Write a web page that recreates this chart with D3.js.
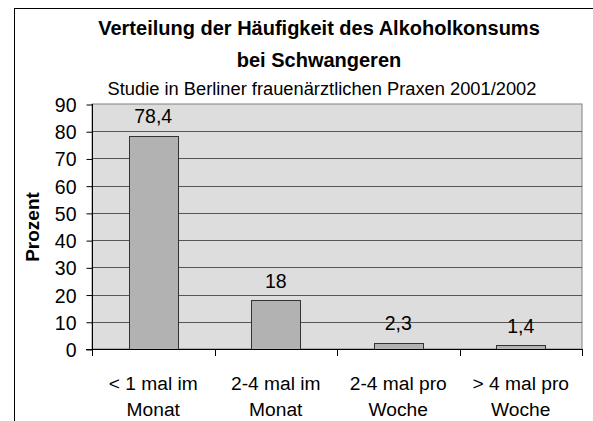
<!DOCTYPE html>
<html>
<head>
<meta charset="utf-8">
<script src="https://cdn.jsdelivr.net/npm/d3@7"></script>
<style>
  body { margin: 0; background: #fff; }
  text { font-family: "Liberation Sans", Arial, sans-serif; fill: #000; }
</style>
</head>
<body>
<script>
//chart data
var categories = [["< 1 mal im", "Monat"], ["2-4 mal im", "Monat"], ["2-4 mal pro", "Woche"], ["> 4 mal pro", "Woche"]];
var values = [78.4, 18, 2.3, 1.4];
var valueLabels = ["78,4", "18", "2,3", "1,4"];
var yTicks = [0, 10, 20, 30, 40, 50, 60, 70, 80, 90];
var titleLines = ["Verteilung der Häufigkeit des Alkoholkonsums", "bei Schwangeren"];
var subtitle = "Studie in Berliner frauenärztlichen Praxen 2001/2002";

window.onload = drawChart();

function drawChart(){
    var width = 593,
        height = 421;

    var plot = {left: 92, right: 582, top: 104, bottom: 349};

    var svg = d3.select("body")
        .append("svg")
        .attr("width", width)
        .attr("height", height);

    //outer chart frame (runs off the picture on the right and bottom)
    svg.append("rect")
        .attr("x", 14.5)
        .attr("y", 8.5)
        .attr("width", 700)
        .attr("height", 500)
        .attr("fill", "#fff")
        .attr("stroke", "#000");

    var x = d3.scaleBand()
        .domain(d3.range(categories.length))
        .range([plot.left, plot.right])
        .paddingInner(0.596)
        .paddingOuter(0.298);

    var y = d3.scaleLinear()
        .domain([0, 90])
        .range([plot.bottom, plot.top]);

    //plot background
    svg.append("rect")
        .attr("x", plot.left)
        .attr("y", plot.top)
        .attr("width", plot.right - plot.left)
        .attr("height", plot.bottom - plot.top)
        .attr("fill", "#dddddd")
        .attr("stroke", "#808080");

    //gridlines
    svg.selectAll(".grid")
        .data(yTicks.filter(function(d){ return d > 0 && d < 90; }))
        .enter()
        .append("line")
        .attr("class", "grid")
        .attr("x1", plot.left)
        .attr("x2", plot.right)
        .attr("y1", function(d){ return Math.round(y(d)) + 0.5; })
        .attr("y2", function(d){ return Math.round(y(d)) + 0.5; })
        .attr("stroke", "#555");

    //bars
    svg.selectAll(".bar")
        .data(values)
        .enter()
        .append("rect")
        .attr("class", "bar")
        .attr("x", function(d, i){ return Math.round(x(i)) + 0.5; })
        .attr("y", function(d){ return Math.round(y(d)) + 0.5; })
        .attr("width", Math.round(x.bandwidth()))
        .attr("height", function(d){ return Math.round(y(0)) - Math.round(y(d)); })
        .attr("fill", "#b2b2b2")
        .attr("stroke", "#333");

    //value labels
    svg.selectAll(".vlabel")
        .data(values)
        .enter()
        .append("text")
        .attr("class", "vlabel")
        .attr("x", function(d, i){ return x(i) + x.bandwidth() / 2; })
        .attr("y", function(d){ return y(d) - 12.5; })
        .attr("text-anchor", "middle")
        .style("font-size", "19.5px")
        .text(function(d, i){ return valueLabels[i]; });

    //y axis
    var yAxis = d3.axisLeft(y)
        .tickValues(yTicks)
        .tickSize(6)
        .tickPadding(10)
        .tickFormat(d3.format("d"));

    var gy = svg.append("g")
        .attr("transform", "translate(" + (plot.left + 0.5) + ",0.5)")
        .call(yAxis);
    gy.select(".domain").attr("stroke", "#000").attr("d", "M0," + (plot.top - 0.5) + "V" + (plot.bottom + 6));
    gy.selectAll(".tick line").attr("stroke", "#000");
    gy.selectAll(".tick text")
        .style("font-size", "19.5px")
        .style("font-family", "Liberation Sans, Arial, sans-serif")
        .attr("dy", "0.36em")
        .attr("fill", "#000");

    //x axis line with ticks at the category boundaries
    var xEdges = d3.range(categories.length + 1).map(function(i){
        return plot.left + i * x.step();
    });
    svg.append("line")
        .attr("x1", plot.left - 6)
        .attr("x2", plot.right)
        .attr("y1", plot.bottom + 0.5)
        .attr("y2", plot.bottom + 0.5)
        .attr("stroke", "#000");
    svg.selectAll(".xtick")
        .data(xEdges)
        .enter()
        .append("line")
        .attr("class", "xtick")
        .attr("x1", function(d){ return Math.round(d) + 0.5; })
        .attr("x2", function(d){ return Math.round(d) + 0.5; })
        .attr("y1", plot.bottom)
        .attr("y2", plot.bottom + 7)
        .attr("stroke", "#000");

    //category labels on two lines
    var xl = svg.selectAll(".xlabel")
        .data(categories)
        .enter()
        .append("text")
        .attr("class", "xlabel")
        .attr("text-anchor", "middle")
        .style("font-size", "19.2px");
    xl.selectAll("tspan")
        .data(function(d, i){ return d.map(function(s){ return {s: s, i: i}; }); })
        .enter()
        .append("tspan")
        .attr("x", function(d){ return x(d.i) + x.bandwidth() / 2; })
        .attr("y", function(d, j){ return 390 + j * 26; })
        .text(function(d){ return d.s; });

    //axis title
    svg.append("text")
        .attr("transform", "translate(39,227) rotate(-90)")
        .attr("text-anchor", "middle")
        .style("font-size", "19px")
        .style("font-weight", "bold")
        .text("Prozent");

    //titles
    svg.selectAll(".title")
        .data(titleLines)
        .enter()
        .append("text")
        .attr("class", "title")
        .attr("x", 319)
        .attr("y", function(d, i){ return 35 + i * 32; })
        .attr("text-anchor", "middle")
        .style("font-size", "20px")
        .style("font-weight", "bold")
        .text(function(d){ return d; });

    svg.append("text")
        .attr("x", 322)
        .attr("y", 95)
        .attr("text-anchor", "middle")
        .style("font-size", "18.3px")
        .text(subtitle);
}
</script>
</body>
</html>
